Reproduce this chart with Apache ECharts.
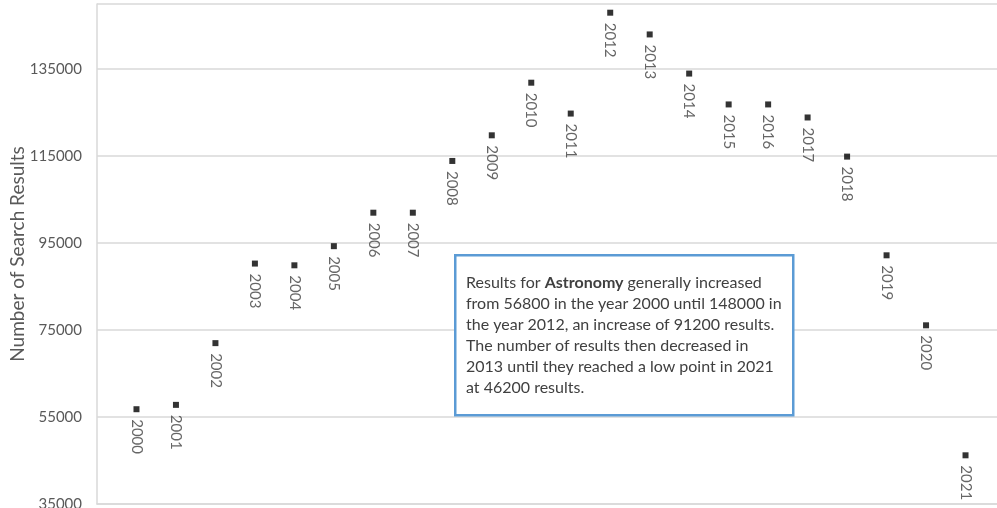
<!DOCTYPE html>
<html>
<head>
<meta charset="utf-8">
<script src="https://cdn.jsdelivr.net/npm/echarts@6/dist/echarts.min.js"></script>
<style>
  html, body { margin: 0; padding: 0; background: #fff; }
  #chart { width: 997px; height: 508px; }
</style>
</head>
<body>
<div id="chart"></div>
<script>
// Yearly search result counts for "Astronomy"
const years = [2000, 2001, 2002, 2003, 2004, 2005, 2006, 2007, 2008, 2009, 2010,
               2011, 2012, 2013, 2014, 2015, 2016, 2017, 2018, 2019, 2020, 2021];
const searchResults = [56800, 57800, 72000, 90300, 89900, 94300, 102000, 102000, 113900, 119800, 131900,
                       124800, 148000, 143000, 134000, 126900, 126900, 123900, 114900, 92200, 76100, 46200];
const yTicks = [35000, 55000, 75000, 95000, 115000, 135000];

const FONT = 'Lato, "Open Sans", sans-serif';
const GREY = '#595959';
const GRID_GREY = '#d9d9d9';

const chart = echarts.init(document.getElementById('chart'), null, { renderer: 'canvas' });

chart.setOption({
  backgroundColor: '#ffffff',
  animation: false,
  grid: { left: 97, top: 4, width: 908, height: 500, containLabel: false, outerBoundsMode: 'none' },
  xAxis: {
    type: 'value',
    min: 1999,
    max: 2022,
    axisLine: { show: true, lineStyle: { color: GRID_GREY, width: 1.5 } },
    axisTick: { show: false },
    axisLabel: { show: false },
    splitLine: { show: false }
  },
  yAxis: {
    type: 'value',
    min: yTicks[0],
    max: 150000,
    interval: yTicks[1] - yTicks[0],
    name: 'Number of Search Results',
    nameLocation: 'middle',
    nameGap: 70,
    nameMoveOverlap: false,
    nameTextStyle: { color: GREY, fontFamily: FONT, fontSize: 19 },
    axisLine: { show: true, lineStyle: { color: GRID_GREY, width: 1.5 } },
    axisTick: { show: false },
    axisLabel: {
      color: GREY, fontFamily: FONT, fontSize: 15, margin: 15,
      showMaxLabel: false,
      formatter: v => (yTicks.indexOf(v) >= 0 ? String(v) : '')
    },
    splitLine: { show: true, lineStyle: { color: GRID_GREY, width: 1.5 } }
  },
  series: [{
    type: 'scatter',
    data: years.map((y, i) => [y, searchResults[i]]),
    symbol: 'rect',
    symbolSize: 6,
    itemStyle: { color: '#000000' },
    label: {
      show: true,
      position: 'bottom',
      distance: 8,
      rotate: -90,
      align: 'left',
      verticalAlign: 'middle',
      offset: [-1, 0],
      color: '#404040',
      fontFamily: FONT,
      fontSize: 15,
      formatter: p => String(p.value[0])
    }
  }],
  graphic: [
    {
      type: 'rect',
      left: 454, top: 254,
      shape: { width: 338, height: 160 },
      style: { fill: '#ffffff', stroke: '#5b9bd5', lineWidth: 2.5 },
      z: 100
    },
    {
      type: 'text',
      left: 466, top: 272,
      z: 101,
      style: {
        text: 'Results for {b|Astronomy} generally increased\n' +
              'from 56800 in the year 2000 until 148000 in\n' +
              'the year 2012, an increase of 91200 results.\n' +
              'The number of results then decreased in\n' +
              '2013 until they reached a low point in 2021\n' +
              'at 46200 results.',
        fill: '#404040',
        font: '16px ' + FONT,
        lineHeight: 21,
        rich: {
          b: { fontWeight: 'bold', fill: '#404040', fontSize: 16, fontFamily: FONT, lineHeight: 21 }
        }
      }
    }
  ]
});
</script>
</body>
</html>
